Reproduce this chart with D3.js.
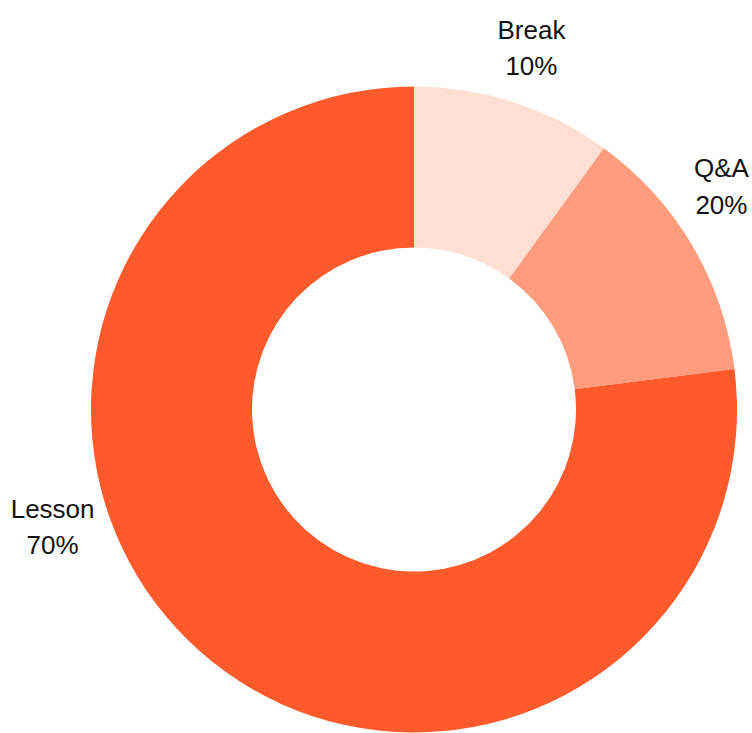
<!DOCTYPE html>
<html>
<head>
<meta charset="utf-8">
<script src="https://cdn.jsdelivr.net/npm/d3@7"></script>
<style>
  body { margin: 0; background: #fff; }
  svg { display: block; }
  text { font-family: "Liberation Sans", Arial, sans-serif; fill: #111; }
</style>
</head>
<body>
<svg id="chart"></svg>
<script>
let categories = ["Break", "Q&A", "Lesson"]
let shares = [10, 13, 77]
let percentLabels = ["10%", "20%", "70%"]
let colours = ["#ffded3", "#ff9c7e", "#ff5a2b"]

let width = 752, height = 733
let cx = 414, cy = 409.5
let outerR = 323, innerR = 162, labelR = 380

let data = categories.map((c, i) => ({ name: c, value: shares[i], label: percentLabels[i] }))

let svg = d3.select('#chart')
    .attr('width', width)
    .attr('height', height)

let g = svg.append('g')
    .attr('transform', 'translate(' + cx + ',' + cy + ')')

let color = d3.scaleOrdinal().domain(categories).range(colours)

let pie = d3.pie().value(d => d.value).sort(null)
let arc = d3.arc().innerRadius(innerR).outerRadius(outerR)

g.selectAll('.slice')
    .data(pie(data))
    .enter()
    .append('path')
    .attr('class', 'slice')
    .attr('d', arc)
    .attr('fill', d => color(d.data.name))

// label angles (degrees, clockwise from 12 o'clock) as placed in the original
let labelAngle = { "Break": 18, "Q&A": 54, "Lesson": 252 }

let labels = g.selectAll('.label')
    .data(data)
    .enter()
    .append('text')
    .attr('class', 'label')
    .attr('text-anchor', 'middle')
    .attr('font-size', 26)
    .attr('transform', d => {
      let a = labelAngle[d.name] * Math.PI / 180
      return 'translate(' + (labelR * Math.sin(a)) + ',' + (-labelR * Math.cos(a)) + ')'
    })

labels.append('tspan')
    .attr('x', 0)
    .attr('y', -9.3)
    .text(d => d.name)

labels.append('tspan')
    .attr('x', 0)
    .attr('y', 27.4)
    .text(d => d.label)
</script>
</body>
</html>
